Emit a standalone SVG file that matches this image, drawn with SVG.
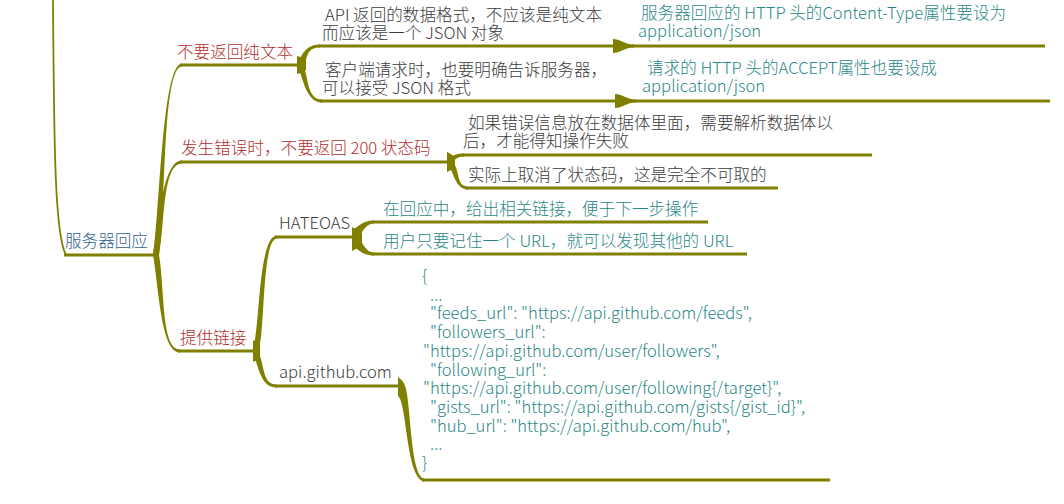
<svg xmlns="http://www.w3.org/2000/svg" width="1064" height="504" viewBox="0 0 1064 504">
<style>
  text { font-family: "Noto Sans CJK SC", "Noto Sans", sans-serif; font-size: 16.6px; font-weight: 300; }
  .root { fill: #2e5e8e; }
  .red { fill: #b22e2e; }
  .grey { fill: #3c3c3c; }
  .teal { fill: #2c8787; }
  .ul { stroke: #808000; stroke-width: 3; fill: none; stroke-linecap: butt; }
  .br { fill: #808000; stroke: none; }
  .thin { stroke: #808000; stroke-width: 1.8; fill: none; }
</style>
<rect width="1064" height="504" fill="#ffffff"/>

<g id="connectors">
  <path class="thin" d="M53,0 C54,150 55,236 66,255"/>
  <path class="br" d="M153,255 C160,210 162,63.5 182,63.5 L182,66.5 C162,66.5 166,210 159,255 Z"/>
  <path class="br" d="M153,255 C159,225 162,160.5 182,160.5 L182,163.5 C162,163.5 165,225 159,255 Z"/>
  <path class="br" d="M159,255 C165,290 161,349.5 180,349.5 L180,352.5 C161,352.5 159,290 153,255 Z"/>
  <path class="br" d="M297,56 C301,57 303,58 306,60 L306,70 C303,72 301,73 297,74 Z"/>
  <path class="br" d="M297,64 C301,58 304,44.5 320,44.5 L320,47.5 C306,47.5 308,58 304,64 Z"/>
  <path class="br" d="M303,66 C309,75 306,99.5 322,99.5 L322,102.5 C305,102.5 303,75 297,66 Z"/>
  <path class="br" d="M613,39 C620,39 625,44.5 634,44.5 L634,47.5 C625,47.5 620,53 613,53 Z"/>
  <path class="br" d="M615,94 C622,94 627,99.5 636,99.5 L636,102.5 C627,102.5 622,108 615,108 Z"/>
  <path class="br" d="M447,152 C450,153 452,155 455,157 L455,167 C452,169 450,171 447,172 Z"/>
  <path class="br" d="M448,159 C452,156 455,153.5 464,153.5 L464,156.5 C457,156.5 455,160 452,162 Z"/>
  <path class="br" d="M454,164 C460,171 456,186.5 468,186.5 L468,189.5 C455,189.5 454,171 448,166 Z"/>
  <path class="br" d="M253,340 C256,341 258,343 260,345 L260,357 C258,359 256,361 253,362 Z"/>
  <path class="br" d="M253,348 C260,330 258,235.5 277,235.5 L277,238.5 C262,238.5 265,330 259,348 Z"/>
  <path class="br" d="M259,354 C265,366 262,384.5 277,384.5 L277,387.5 C260,387.5 259,366 253,354 Z"/>
  <path class="br" d="M352,227 C356,229 359,231 362,233 L362,245 C359,247 356,249 352,251 Z"/>
  <path class="br" d="M352,230 C360,226 362,220.5 374,220.5 L374,223.5 C364,223.5 362,236 356,238 Z"/>
  <path class="br" d="M356,236 C362,238 364,252.5 374,252.5 L374,255.5 C362,255.5 360,250 352,246 Z"/>
  <path class="br" d="M398,377 C401,379 404,382 405,386 C411,400 410,476 424,478.5 L424,481.5 C406,478 407,402 398,396 Z"/>
</g>

<g id="underlines">
  <line class="ul" x1="64" y1="255" x2="156" y2="255"/>
  <line class="ul" x1="180" y1="65" x2="299" y2="65"/>
  <line class="ul" x1="180" y1="162" x2="449" y2="162"/>
  <line class="ul" x1="178" y1="351" x2="255" y2="351"/>
  <line class="ul" x1="318" y1="46" x2="614" y2="46"/>
  <line class="ul" x1="320" y1="101" x2="616" y2="101"/>
  <line class="ul" x1="632" y1="46" x2="1045" y2="46"/>
  <line class="ul" x1="634" y1="101" x2="1050" y2="101"/>
  <line class="ul" x1="462" y1="155" x2="872" y2="155"/>
  <line class="ul" x1="466" y1="188" x2="778" y2="188"/>
  <line class="ul" x1="275" y1="237" x2="354" y2="237"/>
  <line class="ul" x1="275" y1="386" x2="401" y2="386"/>
  <line class="ul" x1="372" y1="222" x2="708" y2="222"/>
  <line class="ul" x1="372" y1="254" x2="747" y2="254"/>
  <line class="ul" x1="422" y1="480" x2="830" y2="480"/>
</g>

<g id="node-root"><text class="root" x="65" y="247">服务器回应</text></g>

<g id="node-plain"><text class="red" x="177" y="58">不要返回纯文本</text></g>
<g id="node-error"><text class="red" x="181" y="154">发生错误时，不要返回 200 状态码</text></g>
<g id="node-links"><text class="red" x="180" y="344">提供链接</text></g>

<g id="node-a1"><text class="grey"><tspan x="325" y="21">API 返回的数据格式，不应该是纯文本</tspan><tspan x="322" y="39">而应该是一个 JSON 对象</tspan></text></g>
<g id="node-a2"><text class="grey"><tspan x="325" y="76">客户端请求时，也要明确告诉服务器，</tspan><tspan x="322" y="94">可以接受 JSON 格式</tspan></text></g>
<g id="node-g1"><text class="teal"><tspan x="641" y="19">服务器回应的 HTTP 头的Content-Type属性要设为</tspan><tspan x="638" y="37">application/json</tspan></text></g>
<g id="node-g2"><text class="teal"><tspan x="647" y="74">请求的 HTTP 头的ACCEPT属性也要设成</tspan><tspan x="642" y="92">application/json</tspan></text></g>

<g id="node-b1"><text class="grey"><tspan x="468" y="129">如果错误信息放在数据体里面，需要解析数据体以</tspan><tspan x="463" y="147">后，才能得知操作失败</tspan></text></g>
<g id="node-b2"><text class="grey" x="468" y="181">实际上取消了状态码，这是完全不可取的</text></g>

<g id="node-hateoas"><text class="grey" x="279" y="229">HATEOAS</text></g>
<g id="node-h1"><text class="teal" x="383" y="215">在回应中，给出相关链接，便于下一步操作</text></g>
<g id="node-h2"><text class="teal" x="383" y="247">用户只要记住一个 URL，就可以发现其他的 URL</text></g>

<g id="node-github"><text class="grey" x="279" y="378">api.github.com</text></g>
<g id="node-json"><text class="teal">
  <tspan x="422" y="282">{</tspan>
  <tspan x="430" y="300.7">...</tspan>
  <tspan x="430" y="319.4">"feeds_url": "https://api.github.com/feeds",</tspan>
  <tspan x="430" y="338.1">"followers_url":</tspan>
  <tspan x="423" y="356.8">"https://api.github.com/user/followers",</tspan>
  <tspan x="430" y="375.5">"following_url":</tspan>
  <tspan x="423" y="394.2">"https://api.github.com/user/following{/target}",</tspan>
  <tspan x="430" y="412.9">"gists_url": "https://api.github.com/gists{/gist_id}",</tspan>
  <tspan x="430" y="431.6">"hub_url": "https://api.github.com/hub",</tspan>
  <tspan x="430" y="450.3">...</tspan>
  <tspan x="422" y="469">}</tspan>
</text></g>
</svg>
